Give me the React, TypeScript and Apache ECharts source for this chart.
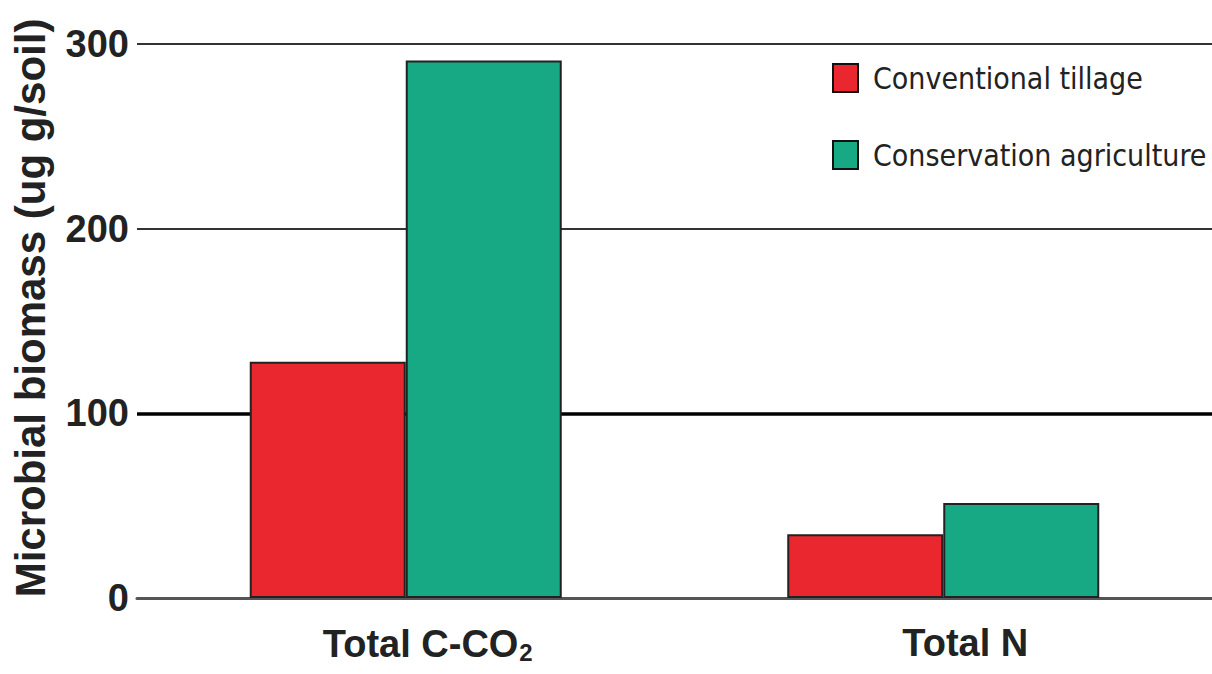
import React, { useEffect, useRef } from "react";
import * as echarts from "echarts";

const categories = ["Total C-CO2", "Total N"];
const conventionalTillage = [128, 34.5];
const conservationAgriculture = [291, 51.5];
const yTicks = [0, 100, 200, 300];

const FONT = "'Liberation Sans', Arial, Helvetica, sans-serif";
const NARROW = "'Liberation Sans Narrow', 'Arial Narrow', 'DejaVu Sans Condensed', sans-serif";

export default function App() {
  const ref = useRef<HTMLDivElement>(null);
  useEffect(() => {
    document.body.style.margin = "0";
    const chart = echarts.init(ref.current!, null, { renderer: "svg" });
    chart.setOption({
      animation: false,
      backgroundColor: "#ffffff",
      grid: { left: 137, right: 0, top: 44, bottom: 76, containLabel: false },
      legend: {
        orient: "vertical",
        left: 832,
        top: 63,
        padding: 0,
        itemWidth: 25,
        itemHeight: 28,
        itemGap: 47,
        icon: "rect",
        itemStyle: { borderColor: "#111", borderWidth: 2 },
        textStyle: {
          fontFamily: NARROW,
          fontSize: 30,
          color: "#222",
          padding: [0, 0, 0, 10],
        },
        data: ["Conventional tillage", "Conservation agriculture"],
      },
      xAxis: {
        type: "category",
        data: categories,
        axisTick: { show: false },
        axisLine: { show: true, lineStyle: { color: "#555", width: 3 } },
        axisLabel: {
          margin: 26,
          padding: [0, 0, 0, 44],
          formatter: (v: string) =>
            v === "Total C-CO2" ? "{m|Total C-CO}{sub|2}" : "{m|" + v + "}",
          rich: {
            m: { fontFamily: FONT, fontWeight: "bold", fontSize: 38, color: "#222" },
            sub: {
              fontFamily: FONT,
              fontWeight: "bold",
              fontSize: 24,
              color: "#222",
              padding: [16, 0, 0, 1],
            },
          },
        },
      },
      yAxis: {
        type: "value",
        min: 0,
        max: yTicks[yTicks.length - 1],
        interval: 100,
        name: "Microbial biomass (ug g/soil)",
        nameLocation: "middle",
        nameRotate: 90,
        nameGap: 86,
        nameTextStyle: {
          fontFamily: FONT,
          fontWeight: "bold",
          fontSize: 42,
          color: "#222",
          padding: [0, 0, 0, 26],
        },
        axisLine: { show: false },
        axisTick: { show: false },
        axisLabel: {
          margin: 8,
          fontFamily: FONT,
          fontWeight: "bold",
          fontSize: 38,
          color: "#222",
        },
        splitLine: { show: true, lineStyle: { color: "#333", width: 2 } },
      },
      series: [
        {
          name: "Conventional tillage",
          type: "bar",
          data: conventionalTillage,
          barWidth: 156,
          barGap: "0%",
          itemStyle: { color: "#EA272E", borderColor: "#222", borderWidth: 2 },
          markLine: {
            z: 1,
            silent: true,
            symbol: "none",
            label: { show: false },
            lineStyle: { color: "#000", width: 3.5, type: "solid" },
            data: [{ yAxis: yTicks[1] }],
          },
        },
        {
          name: "Conservation agriculture",
          type: "bar",
          data: conservationAgriculture,
          barWidth: 156,
          barGap: "0%",
          itemStyle: { color: "#17A984", borderColor: "#222", borderWidth: 2 },
        },
      ],
    });
    return () => chart.dispose();
  }, []);
  return <div ref={ref} style={{ width: 1212, height: 674 }} />;
}
